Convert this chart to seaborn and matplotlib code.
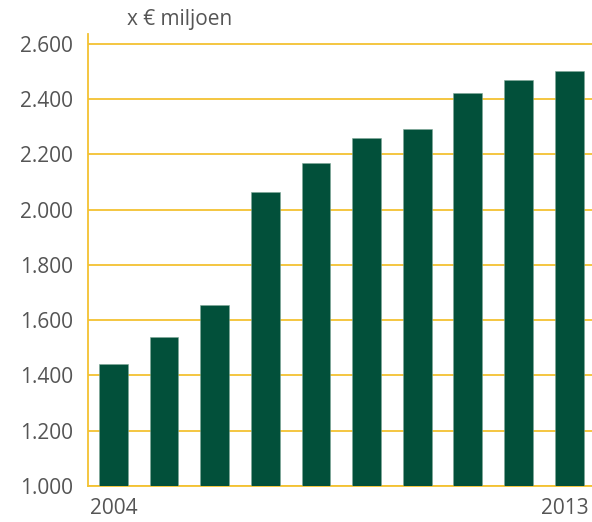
import matplotlib
matplotlib.use('Agg')
import matplotlib.pyplot as plt
import matplotlib.transforms as mtransforms
import seaborn as sns
import pandas as pd
import numpy as np

# data (x € miljoen)
years = ['2004', '2005', '2006', '2007', '2008', '2009', '2010', '2011', '2012', '2013']
values = [1440, 1540, 1655, 2065, 2168, 2258, 2292, 2420, 2470, 2500]
y_ticks = [1000, 1200, 1400, 1600, 1800, 2000, 2200, 2400, 2600]
y_labels = ['1.000', '1.200', '1.400', '1.600', '1.800', '2.000', '2.200', '2.400', '2.600']

df = pd.DataFrame({'year': years, 'value': values})

GREEN = '#02503a'
GOLD = '#f3c232'
GREY = '#555555'

sns.set_style('white')
plt.rcParams['font.family'] = ['Open Sans', 'DejaVu Sans']

fig = plt.figure(figsize=(5.92, 5.22), dpi=100)
ax = fig.add_axes([88 / 592, 1 - 486 / 522, 1 - 88 / 592, (486 - 34) / 522])

sns.barplot(data=df, x='year', y='value', color=GREEN, width=0.57,
            saturation=1, ax=ax, zorder=3)
for p in ax.patches:
    p.set_edgecolor('#7fa898')
    p.set_linewidth(0.4)

ax.set_xlim(-0.5, 9.45)
ax.set_ylim(1000, 2635)

# gridlines
ax.set_yticks(y_ticks)
ax.set_yticklabels(y_labels)
ax.yaxis.grid(True, color=GOLD, linewidth=1.3, zorder=0)
ax.set_axisbelow(True)

# x labels: only first and last year
ax.set_xticks(range(len(years)))
ax.set_xticklabels([years[0]] + [''] * (len(years) - 2) + [years[-1]])
ax.tick_params(axis='x', which='major', length=0, pad=9, labelsize=15, labelcolor=GREY)
ax.set_xticks(np.arange(-0.5, len(years) - 1, 1), minor=True)
ax.tick_params(axis='x', which='minor', length=5, width=1.3, color=GOLD, direction='out')
ax.tick_params(axis='y', length=0, pad=11, labelsize=15, labelcolor=GREY)

# nudge last label a little to the left so it stays inside the figure
last = ax.get_xticklabels()[-1]
last.set_transform(last.get_transform() + mtransforms.ScaledTranslation(-4 / 100, 0, fig.dpi_scale_trans))

for side in ['top', 'right']:
    ax.spines[side].set_visible(False)
for side in ['left', 'bottom']:
    ax.spines[side].set_color(GOLD)
    ax.spines[side].set_linewidth(1.3)

ax.set_xlabel('')
ax.set_ylabel('')

fig.text(180 / 592, 1 - 19 / 522, 'x € miljoen', ha='center', va='center',
         fontsize=15, color=GREY)

fig.savefig('out.png', dpi=100)
